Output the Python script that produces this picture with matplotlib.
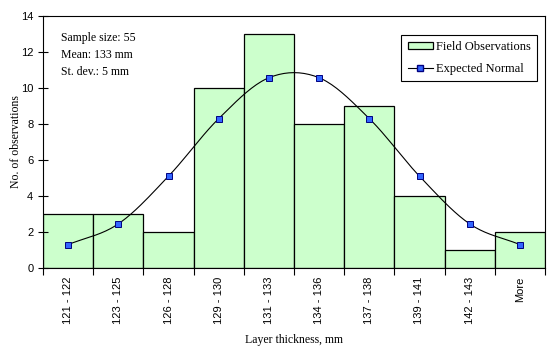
import numpy as np
import matplotlib
matplotlib.use("Agg")
import matplotlib.pyplot as plt

categories = ["121 - 122", "123 - 125", "126 - 128", "129 - 130", "131 - 133",
              "134 - 136", "137 - 138", "139 - 141", "142 - 143", "More"]
observed = [3, 3, 2, 10, 13, 8, 9, 4, 1, 2]
expected = [1.3, 2.45, 5.1, 8.3, 10.57, 10.57, 8.3, 5.1, 2.45, 1.3]
stats_text = "Sample size: 55\nMean: 133 mm\nSt. dev.: 5 mm"

plt.rcParams["font.family"] = ["Liberation Serif", "DejaVu Serif"]
plt.rcParams["font.size"] = 8.5
TICK_FONT = ["Liberation Sans", "DejaVu Sans"]


def smooth(x, y, n=20):
    """Catmull-Rom curve through the points (Excel-style smoothed line)."""
    x = np.asarray(x, float)
    y = np.asarray(y, float)
    px = np.concatenate([[2 * x[0] - x[1]], x, [2 * x[-1] - x[-2]]])
    py = np.concatenate([[2 * y[0] - y[1]], y, [2 * y[-1] - y[-2]]])
    t = np.linspace(0, 1, n, endpoint=False)
    xs, ys = [], []
    for i in range(1, len(px) - 2):
        for p, out in ((px, xs), (py, ys)):
            p0, p1, p2, p3 = p[i - 1], p[i], p[i + 1], p[i + 2]
            out.extend(0.5 * (2 * p1 + (-p0 + p2) * t
                              + (2 * p0 - 5 * p1 + 4 * p2 - p3) * t ** 2
                              + (-p0 + 3 * p1 - 3 * p2 + p3) * t ** 3))
    xs.append(x[-1])
    ys.append(y[-1])
    return np.array(xs), np.array(ys)


fig = plt.figure(figsize=(5.5, 3.52), dpi=100)
ax = fig.add_axes([43 / 550, 84 / 352, 502 / 550, 252 / 352])

pos = np.arange(len(categories))
bars = ax.bar(pos, observed, width=1.0, color="#ccffcc", edgecolor="black",
              linewidth=0.9, label="Field Observations")
sx, sy = smooth(pos, expected)
ax.plot(sx, sy, color="black", linewidth=0.8)
ax.plot(pos, expected, linestyle="none", marker="s", markersize=4.5,
        markerfacecolor="#3366ff", markeredgecolor="#000080", markeredgewidth=0.7)
# legend proxy for line with marker
line_proxy, = ax.plot([], [], color="black", linewidth=0.8, marker="s", markersize=4.5,
                      markerfacecolor="#3366ff", markeredgecolor="#000080",
                      label="Expected Normal")

ax.set_xlim(-0.5, len(categories) - 0.5)
ax.set_ylim(0, 14)
ax.set_yticks(range(0, 15, 2))
ax.set_xticks(pos)
ax.set_xticklabels(categories, rotation=90)
ax.set_xticks(np.arange(-0.5, len(categories)), minor=True)
ax.tick_params(axis="x", which="major", length=0, pad=6)
ax.tick_params(axis="x", which="minor", length=5, direction="out", width=0.8)
ax.tick_params(axis="y", direction="inout", length=7, width=0.8)
for lab in ax.get_xticklabels() + ax.get_yticklabels():
    lab.set_family(TICK_FONT)
    lab.set_fontsize(8)
for s in ax.spines.values():
    s.set_linewidth(0.8)

ax.set_xlabel("Layer thickness, mm", labelpad=7)
ax.set_ylabel("No. of observations", labelpad=-1)
ax.text(0.035, 0.935, stats_text, transform=ax.transAxes, va="top",
        linespacing=1.55)

leg = ax.legend([bars, line_proxy], ["Field Observations", "Expected Normal"],
                loc="upper right", bbox_to_anchor=(0.985, 0.925), fancybox=False,
                edgecolor="black", framealpha=1, handlelength=2.0, handleheight=0.5,
                borderpad=0.5, labelspacing=0.8, handletextpad=0.3, fontsize=9,
                borderaxespad=0)
leg.get_frame().set_linewidth(0.8)

fig.savefig("out.png", dpi=100)
